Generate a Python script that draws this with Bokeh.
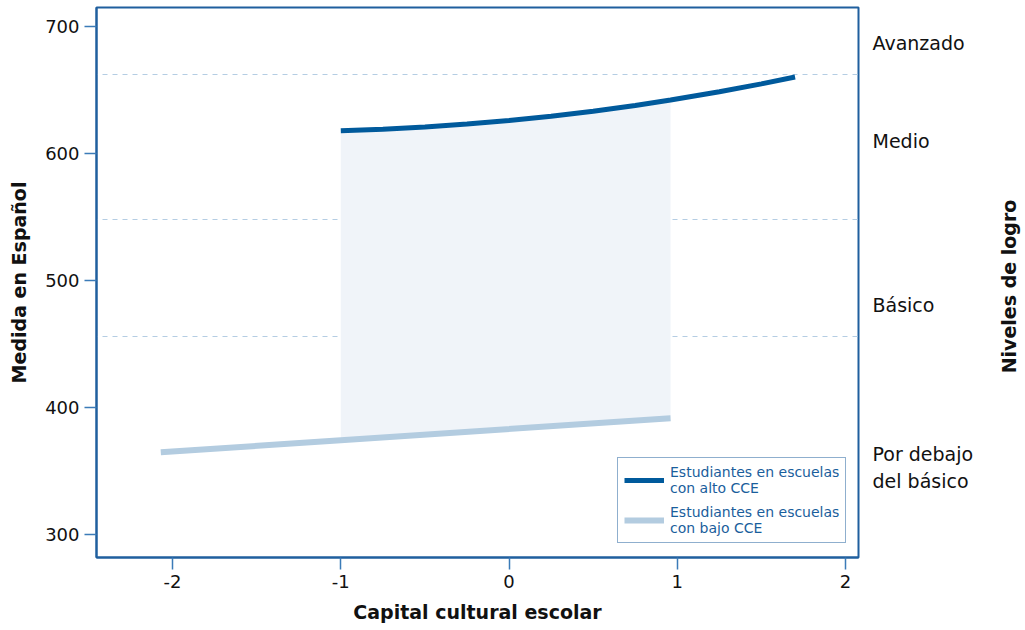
import math
import numpy as np
from bokeh.plotting import figure
from bokeh.layouts import row
from bokeh.models import (Range1d, LinearAxis, FixedTicker, Legend, LegendItem, Label)
from bokeh.embed import file_html
from bokeh.resources import INLINE

# ---- data ----
alto_x = [-1.0, -0.75, -0.5, -0.25, 0.0, 0.25, 0.5, 0.75, 0.96, 1.25, 1.5, 1.7]
alto_y = [618.0, 619.2, 620.9, 623.2, 626.0, 629.4, 633.4, 637.9, 642.2, 648.7, 654.9, 660.3]
bajo_x = [-2.07, -1.0, 0.96]
bajo_y = [364.8, 374.3, 391.6]
cortes = [456, 548, 662]
niveles_y = [687, 610, 481, 353]
niveles = ["Avanzado", "Medio", "Básico", "Por debajo\ndel básico"]
x_ticks = [-2, -1, 0, 1, 2]
x_tick_labels = ["-2", "-1", "0", "1", "2"]
y_ticks = [300, 400, 500, 600, 700]
serie_alto = "Estudiantes en escuelas\ncon alto CCE"
serie_bajo = "Estudiantes en escuelas\ncon bajo CCE"
titulo_derecha = "Niveles de logro"

DARK = "#005a9c"
LIGHT = "#b3cce0"
FILL = "#f0f4f9"
FRAME = "#1f5f9e"
TICK = "#3b7bb8"
GRID = "#b4cde3"
FONT = "DejaVu Sans"

W_MAIN = 993
p = figure(width=W_MAIN, height=630, output_backend="svg", toolbar_location=None,
           x_range=Range1d(-2.452, 2.077), y_range=Range1d(282, 715),
           min_border_left=96, min_border_right=W_MAIN - 858, min_border_top=7,
           min_border_bottom=73)

# band between curves (x from -1 to 0.96)
k = alto_x.index(0.96) + 1
band_x = alto_x[:k] + [bajo_x[2], bajo_x[1]]
band_y = alto_y[:k] + [bajo_y[2], bajo_y[1]]
p.patch(band_x, band_y, fill_color=FILL, line_color=None)

r_bajo = p.line(bajo_x, bajo_y, line_color=LIGHT, line_width=6, line_cap="butt")
r_alto = p.line(alto_x, alto_y, line_color=DARK, line_width=5, line_cap="butt")

# grid: dashed lines at level cutpoints
p.xgrid.visible = False
p.ygrid.ticker = FixedTicker(ticks=cortes)
p.ygrid.grid_line_color = GRID
p.ygrid.grid_line_dash = "5 5"
p.ygrid.grid_line_dash_offset = 4
p.ygrid.grid_line_width = 1

p.outline_line_color = FRAME
p.outline_line_width = 2
p.outline_line_alpha = 1

for ax in (p.xaxis[0], p.yaxis[0]):
    ax.axis_line_color = FRAME
    ax.axis_line_width = 2
    ax.major_tick_line_color = TICK
    ax.major_tick_line_width = 1.5
    ax.major_tick_out = 12
    ax.major_tick_in = 0
    ax.minor_tick_line_color = None
    ax.major_label_text_font = FONT
    ax.major_label_text_font_size = "18px"
    ax.major_label_text_color = "#111111"
    ax.axis_label_text_font = FONT
    ax.axis_label_text_font_style = "bold"
    ax.axis_label_text_font_size = "19px"
    ax.axis_label_text_color = "#111111"

p.xaxis[0].ticker = FixedTicker(ticks=x_ticks)
p.xaxis[0].major_label_overrides = {int(v): t for v, t in zip(x_ticks, x_tick_labels)}
p.yaxis[0].ticker = FixedTicker(ticks=y_ticks)
p.xaxis[0].axis_label = "Capital cultural escolar"
p.yaxis[0].axis_label = "Medida en Español"
p.xaxis[0].major_label_standoff = 5
p.yaxis[0].major_label_standoff = 5
p.xaxis[0].axis_label_standoff = 10
p.yaxis[0].axis_label_standoff = 12

right = LinearAxis(ticker=FixedTicker(ticks=niveles_y),
                   major_label_overrides={int(v): t for v, t in zip(niveles_y, niveles)})
right.axis_line_color = None
right.major_tick_line_color = None
right.minor_tick_line_color = None
right.major_tick_out = 0
right.major_tick_in = 0
right.major_label_standoff = 14
right.major_label_text_font = FONT
right.major_label_text_font_size = "19px"
right.major_label_text_color = "#111111"
p.add_layout(right, "right")

legend = Legend(items=[LegendItem(label=serie_alto, renderers=[r_alto]),
                       LegendItem(label=serie_bajo, renderers=[r_bajo])],
                location=(521, 14))
legend.border_line_color = FRAME
legend.border_line_width = 1.5
legend.background_fill_color = "white"
legend.background_fill_alpha = 1
legend.label_text_font = FONT
legend.label_text_font_size = "14px"
legend.label_text_color = "#1a5e9c"
legend.glyph_width = 40
legend.label_standoff = 6
legend.padding = 6
legend.spacing = 8
legend.margin = 0
p.add_layout(legend, "center")

# narrow strip on the right that carries the right-hand title (reads bottom to top)
W_SIDE = 1025 - W_MAIN
p2 = figure(width=W_SIDE, height=630, output_backend="svg", toolbar_location=None,
            x_axis_type=None, y_axis_type=None,
            x_range=Range1d(0, 1), y_range=Range1d(0, 1),
            min_border_left=0, min_border_right=0, min_border_top=0, min_border_bottom=0)
p2.outline_line_color = None
p2.grid.visible = False
p2.add_layout(Label(x=15, y=271, x_units="screen", y_units="screen",
                    text=titulo_derecha, angle=math.pi / 2,
                    text_align="center", text_baseline="middle",
                    text_font=FONT, text_font_style="bold",
                    text_font_size="19px", text_color="#111111"))

layout = row(p, p2, spacing=0)
open("out.html", "w").write(file_html(layout, INLINE))
